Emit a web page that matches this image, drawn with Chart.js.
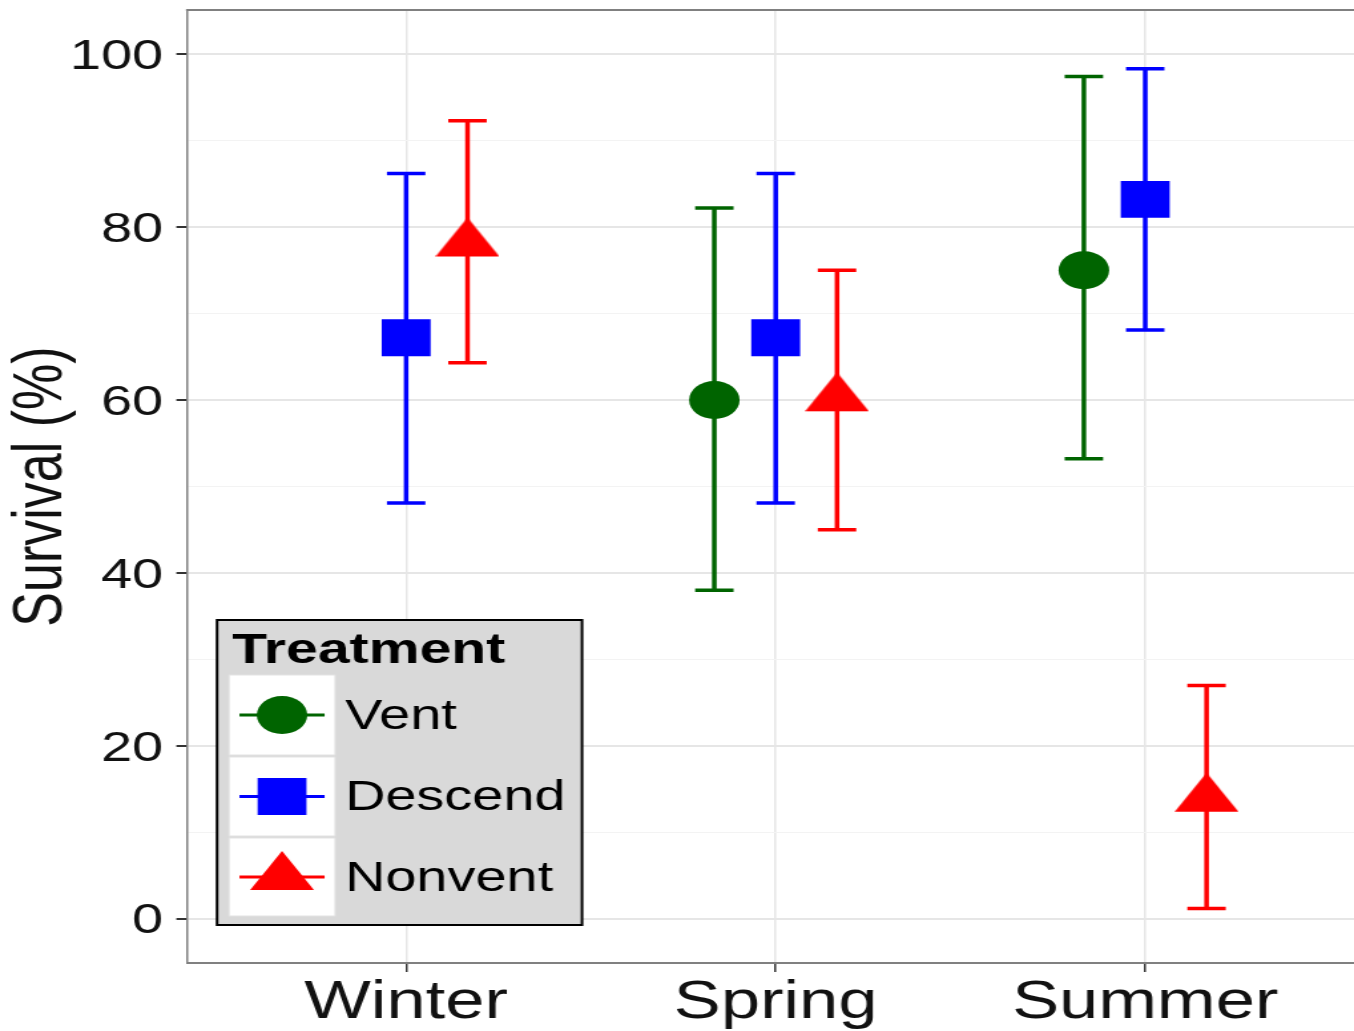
<!DOCTYPE html>
<html>
<head>
<meta charset="utf-8">
<title>Survival by season and treatment</title>
<script src="https://cdn.jsdelivr.net/npm/chart.js@4/dist/chart.umd.min.js"></script>
<style>
  html, body { margin: 0; padding: 0; background: #fff; overflow: hidden; }
  /* the figure is drawn at a narrower width and widened horizontally */
  #wrap { width: 1018px; height: 1031px; transform: scaleX(1.33006); transform-origin: 0 0; }
  canvas { display: block; }
</style>
</head>
<body>
<div id="wrap"><canvas id="chart" width="1018" height="1031"></canvas></div>
<script>
// ---- data ----
const seasons = ['Winter', 'Spring', 'Summer'];
const yMajorTicks = [0, 20, 40, 60, 80, 100];
const yMinorTicks = [10, 30, 50, 70, 90];

const ventMean  = [null, 60.0, 75.0];
const ventLower = [null, 38.0, 53.2];
const ventUpper = [null, 82.2, 97.4];

const descendMean  = [67.2, 67.2, 83.2];
const descendLower = [48.1, 48.1, 68.1];
const descendUpper = [86.2, 86.2, 98.3];

const nonventMean  = [78.1, 60.2, 13.9];
const nonventLower = [64.3, 45.0, 1.2];
const nonventUpper = [92.3, 75.0, 27.0];

// ---- styling ----
const FONT = '"Liberation Sans", Arial, Helvetica, sans-serif';
Chart.defaults.font.family = FONT;

const DODGE = 0.166;        // horizontal dodge between treatments (category units)
const CAP_HALF = 0.052;     // half width of error-bar caps (category units)

// filled triangle marker, centred on its centroid
function triangleMarker(color) {
  const w = 48, h = 39;
  const c = document.createElement('canvas');
  c.width = w; c.height = Math.round(h * 4 / 3);
  const g = c.getContext('2d');
  g.fillStyle = color;
  g.beginPath();
  g.moveTo(w / 2, 0);
  g.lineTo(w, h);
  g.lineTo(0, h);
  g.closePath();
  g.fill();
  return c;
}

function buildPoints(mean, lower, upper, offset) {
  const pts = [];
  seasons.forEach((s, i) => {
    if (mean[i] == null) return;
    pts.push({ x: i + offset, y: mean[i], lo: lower[i], hi: upper[i] });
  });
  return pts;
}

const datasets = [
  {
    label: 'Vent',
    data: buildPoints(ventMean, ventLower, ventUpper, -DODGE),
    backgroundColor: '#006400', borderColor: '#006400',
    pointStyle: 'circle', pointRadius: 19, borderWidth: 0
  },
  {
    label: 'Descend',
    data: buildPoints(descendMean, descendLower, descendUpper, 0),
    backgroundColor: '#0000ff', borderColor: '#0000ff',
    pointStyle: 'rect', pointRadius: 26, borderWidth: 0
  },
  {
    label: 'Nonvent',
    data: buildPoints(nonventMean, nonventLower, nonventUpper, DODGE),
    backgroundColor: '#ff0000', borderColor: '#ff0000',
    pointStyle: triangleMarker('#ff0000'), pointRadius: 24, borderWidth: 0
  }
];

// vertical error bars with caps, drawn beneath the markers
const errorBars = {
  id: 'errorBars',
  beforeDatasetsDraw(chart) {
    const { ctx, scales: { x, y } } = chart;
    ctx.save();
    chart.data.datasets.forEach((ds, di) => {
      const meta = chart.getDatasetMeta(di);
      ctx.strokeStyle = ds.borderColor;
      ctx.lineWidth = 3.5;
      ctx.lineCap = 'butt';
      meta.data.forEach((el, j) => {
        const p = ds.data[j];
        const px = el.x;
        const yLo = y.getPixelForValue(p.lo);
        const yHi = y.getPixelForValue(p.hi);
        const xL = x.getPixelForValue(p.x - CAP_HALF);
        const xR = x.getPixelForValue(p.x + CAP_HALF);
        ctx.beginPath();
        ctx.moveTo(px, yLo); ctx.lineTo(px, yHi);
        ctx.moveTo(xL, yLo); ctx.lineTo(xR, yLo);
        ctx.moveTo(xL, yHi); ctx.lineTo(xR, yHi);
        ctx.stroke();
      });
    });
    ctx.restore();
  }
};

// panel border along the top edge
const panelTop = {
  id: 'panelTop',
  afterDraw(chart) {
    const { ctx, chartArea: a } = chart;
    ctx.save();
    ctx.strokeStyle = '#808080';
    ctx.lineWidth = 2;
    ctx.beginPath();
    ctx.moveTo(a.left - 0.75, a.top);
    ctx.lineTo(a.right, a.top);
    ctx.stroke();
    ctx.restore();
  }
};

// boxed legend inside the panel
const treatmentLegend = {
  id: 'treatmentLegend',
  afterDraw(chart) {
    const ctx = chart.ctx;
    const L = 163.2, T = 620, W = 274.4, H = 305;
    ctx.save();
    ctx.fillStyle = '#d9d9d9';
    ctx.fillRect(L, T, W, H);
    ctx.strokeStyle = '#000';
    ctx.lineWidth = 2;
    ctx.strokeRect(L, T, W, H);

    ctx.fillStyle = '#000';
    ctx.font = 'bold 43px ' + FONT;
    ctx.textBaseline = 'alphabetic';
    ctx.textAlign = 'left';
    ctx.fillText('Treatment', 174.4, 663);

    const keyL = 172.2, keyW = 79.7;
    const rows = [[675, 755], [757, 836], [838, 916]];
    chart.data.datasets.forEach((ds, i) => {
      const [y0, y1] = rows[i];
      const cx = keyL + keyW / 2, cy = (y0 + y1) / 2;
      ctx.fillStyle = '#fff';
      ctx.fillRect(keyL, y0, keyW, y1 - y0);
      ctx.strokeStyle = '#e3e3e3';
      ctx.lineWidth = 1;
      ctx.strokeRect(keyL, y0, keyW, y1 - y0);

      ctx.strokeStyle = ds.borderColor;
      ctx.lineWidth = 3;
      ctx.beginPath();
      ctx.moveTo(cx - 32, cy); ctx.lineTo(cx + 32, cy);
      ctx.stroke();

      ctx.fillStyle = ds.backgroundColor;
      Chart.helpers.drawPoint(ctx, {
        pointStyle: ds.pointStyle, radius: ds.pointRadius, rotation: 0, borderWidth: 0
      }, cx, cy);

      ctx.fillStyle = '#000';
      ctx.font = '42px ' + FONT;
      ctx.textBaseline = 'middle';
      ctx.fillText(ds.label, 259.4, cy + 2);
    });
    ctx.restore();
  }
};

const isMajor = v => yMajorTicks.includes(v);

new Chart(document.getElementById('chart'), {
  type: 'scatter',
  data: { datasets },
  options: {
    responsive: false,
    animation: false,
    events: [],
    layout: { autoPadding: false, padding: { top: 10, left: 0, right: 0, bottom: 0 } },
    plugins: { legend: { display: false }, tooltip: { enabled: false } },
    scales: {
      x: {
        type: 'linear',
        min: -0.593, max: 2.565,
        afterBuildTicks: s => { s.ticks = seasons.map((_, i) => ({ value: i })); },
        afterFit: s => { s.height = 68; s.paddingLeft = 0; s.paddingRight = 0; },
        ticks: {
          callback: v => seasons[v] ?? '',
          font: { size: 53 }, color: '#111', padding: 0,
          maxRotation: 0, autoSkip: false
        },
        grid: { color: '#e6e6e6', lineWidth: 1.5, tickLength: 9, tickColor: '#333', tickWidth: 1.5 },
        border: { display: true, color: '#808080', width: 2 }
      },
      y: {
        min: -5.1, max: 105.1,
        afterBuildTicks: s => {
          s.ticks = yMajorTicks.concat(yMinorTicks).sort((a, b) => a - b).map(v => ({ value: v }));
        },
        afterFit: s => { s.width = 140.6; s.paddingTop = 0; s.paddingBottom = 0; },
        ticks: {
          callback: v => isMajor(v) ? String(v) : '',
          font: { size: 42 }, color: '#111', padding: 10, autoSkip: false, labelOffset: 3
        },
        grid: {
          color: c => (c.tick && isMajor(c.tick.value)) ? '#e6e6e6' : '#f3f3f3',
          lineWidth: c => (c.tick && isMajor(c.tick.value)) ? 2 : 1,
          tickColor: c => (c.tick && isMajor(c.tick.value)) ? '#333' : 'rgba(0,0,0,0)',
          tickLength: 8, tickWidth: 2
        },
        border: { display: true, color: '#808080', width: 1.5 },
        title: {
          display: true, text: 'Survival (%)',
          font: { size: 52 }, color: '#111', padding: { top: 0, bottom: 0 }
        }
      }
    }
  },
  plugins: [errorBars, panelTop, treatmentLegend]
});
</script>
</body>
</html>
